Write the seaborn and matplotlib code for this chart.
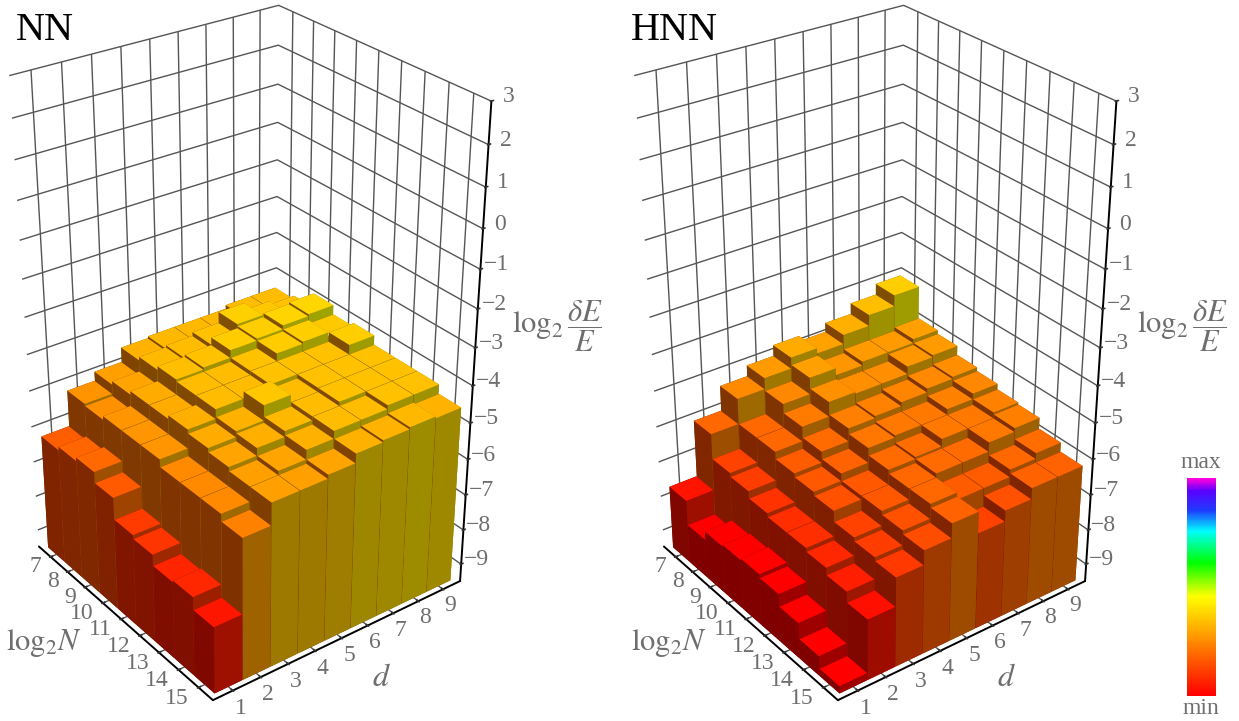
import numpy as np
import seaborn as sns
import matplotlib.pyplot as plt
from matplotlib.colors import LinearSegmentedColormap

# axes values
log2n = [7, 8, 9, 10, 11, 12, 13, 14, 15]
dims = [1, 2, 3, 4, 5, 6, 7, 8, 9]
z_ticks = [-9, -8, -7, -6, -5, -4, -3, -2, -1, 0, 1, 2, 3]
z_floor = -9.5

# log2(dE/E), one list per d, going N=7 ... N=15
nn_values = [
    [-6.25, -6.15, -6.05, -6.35, -6.95, -7.05, -7.35, -7.3, -7.65],
    [-5.25, -5.3, -5.2, -5.2, -5.2, -5.4, -5.4, -5.4, -5.6],
    [-5.0, -4.9, -4.8, -4.8, -4.7, -4.8, -4.9, -5.0, -5.0],
    [-4.6, -4.5, -4.4, -4.45, -4.45, -4.65, -4.7, -4.9, -5.0],
    [-4.55, -4.45, -4.35, -4.45, -4.45, -4.25, -4.55, -4.65, -4.9],
    [-4.55, -4.35, -4.15, -4.35, -4.35, -4.45, -4.45, -4.45, -4.65],
    [-4.55, -4.05, -4.1, -4.15, -4.35, -4.35, -4.35, -4.45, -4.6],
    [-4.45, -4.25, -4.0, -4.1, -4.35, -4.35, -4.35, -4.35, -4.55],
    [-4.45, -4.35, -3.95, -4.2, -4.1, -4.35, -4.35, -4.35, -4.6],
]
hnn_values = [
    [-7.7, -8.4, -8.15, -8.1, -8.05, -8.15, -8.5, -8.95, -9.3],
    [-6.1, -6.8, -6.9, -7.1, -7.2, -7.2, -7.3, -7.5, -7.8],
    [-5.4, -6.1, -6.1, -6.3, -6.4, -6.5, -6.8, -6.9, -7.0],
    [-5.1, -5.45, -5.7, -6.0, -6.2, -6.4, -6.4, -6.5, -6.6],
    [-4.8, -5.0, -5.3, -5.65, -5.8, -6.0, -6.1, -6.1, -6.2],
    [-4.95, -5.2, -5.35, -5.6, -5.75, -5.95, -6.0, -6.3, -6.8],
    [-4.7, -5.1, -5.35, -5.5, -5.75, -5.75, -6.0, -6.3, -6.5],
    [-4.4, -5.1, -5.15, -5.4, -5.6, -5.75, -5.75, -6.1, -6.2],
    [-4.1, -5.0, -5.1, -5.35, -5.45, -5.6, -5.65, -5.95, -6.2],
]

# colour ramp of the legend
ramp_stops = [0.0, 0.457, 0.61, 0.76, 0.855, 0.945, 1.0]
ramp_colors = ['#ff0000', '#ffff00', '#00ff00', '#00ffff', '#1e3cff', '#5a00ff', '#ff00dc']
rainbow = LinearSegmentedColormap.from_list('rainbow_bar', list(zip(ramp_stops, ramp_colors)))

sns.set_theme(style='white', rc={
    'axes.edgecolor': 'black',
    'grid.color': '#555555',
    'grid.linewidth': 1.0,
    'xtick.color': '#333333',
    'ytick.color': '#333333',
    'xtick.labelcolor': '#6e6e6e',
    'ytick.labelcolor': '#6e6e6e',
    'xtick.labelsize': 17,
    'ytick.labelsize': 17,
})
plt.rcParams['font.family'] = ['Liberation Serif', 'DejaVu Serif']
plt.rcParams['mathtext.fontset'] = 'stix'
plt.rcParams['axes.unicode_minus'] = True

W, H = 1239, 721
fig = plt.figure(figsize=(W / 100, H / 100), dpi=100)


def face_colors(z):
    r, g, b, a = rainbow(np.clip((z + 8.1) / 10.8, 0, 1))
    top = (r, g, b)
    right = (0.62 * r, 0.76 * g, b)
    left = (0.5 * r, 0.38 * g, b)
    # order used by bar3d: -z, +z, -y, +y, -x, +x
    return [left, top, left, right, left, right]


def panel(values, x_offset):
    side = 687.4
    rect = [(-106.2 + x_offset) / W, (H - 694.9) / H, side / W, side / H]
    ax = fig.add_axes(rect, projection='3d', computed_zorder=False)
    ax.set_facecolor('none')
    ax.set_proj_type('persp', focal_length=0.533)
    ax.set_box_aspect((1, 0.993, 1.688))
    ax.view_init(elev=29.47, azim=-126.88)
    ax.set_xlim(0.3, 9.7, view_margin=0)
    ax.set_ylim(15.7, 6.3, view_margin=0)
    ax.set_zlim(z_floor, 3, view_margin=0)
    ax.set_xticks(dims)
    ax.set_yticks(log2n)
    ax.set_zticks(z_ticks)
    ax.zaxis.set_ticks_position('upper')
    ax.tick_params(axis='x', pad=2)
    ax.tick_params(axis='y', pad=2)
    ax.tick_params(axis='z', pad=1)
    for lbl in ax.zaxis.get_ticklabels():
        lbl.set_va('baseline')
    for lbl in ax.xaxis.get_ticklabels():
        lbl.set_va('baseline')
    for lbl in ax.yaxis.get_ticklabels():
        lbl.set_va('bottom')
        lbl.set_ha('right')
    for axis in (ax.xaxis, ax.yaxis, ax.zaxis):
        axis.set_pane_color((1, 1, 1, 0))
        axis.pane.set_edgecolor('#555555')
        axis.line.set_linewidth(1.4)
        axis._axinfo['tick']['inward_factor'] = 0.05
        axis._axinfo['tick']['outward_factor'] = 0.1

    # far bars first, the near corner is d=1, N=15
    order = 0
    for j, n in enumerate(log2n):
        for i in reversed(range(len(dims))):
            z = values[i][j]
            ax.bar3d(dims[i] - 0.49, n - 0.49, z_floor, 0.98, 0.98, z - z_floor,
                     color=face_colors(z), shade=False, zorder=order, linewidth=0)
            order += 1
    return ax


ax_nn = panel(nn_values, 0)
ax_hnn = panel(hnn_values, 625)

gray = '#6e6e6e'
fig.text(16 / W, 1 - 30 / H, 'NN', fontsize=29, color='black', ha='left', va='center')
fig.text(631 / W, 1 - 30 / H, 'HNN', fontsize=29, color='black', ha='left', va='center')
for off in (0, 625):
    fig.text((44 + off) / W, 1 - 643 / H, r'$\log_2\!N$', fontsize=22, color=gray, ha='center', va='center')
    fig.text((381 + off) / W, 1 - 679 / H, r'$d$', fontsize=23, color=gray, ha='center', va='center')
    fig.text((561 + off - 4) / W, 1 - 326 / H, r'$\log_2\dfrac{\delta E}{E}$', fontsize=22, color=gray,
             ha='center', va='center')

# legend strip
cax = fig.add_axes([1187 / W, 1 - 696 / H, 29 / W, 218 / H])
ramp = np.linspace(1, 0, 220).reshape(-1, 1)
sns.heatmap(ramp, ax=cax, cmap=rainbow, vmin=0, vmax=1, cbar=False,
            xticklabels=False, yticklabels=False)
fig.text(1201 / W, 1 - 462 / H, 'max', fontsize=17, color=gray, ha='center', va='center')
fig.text(1201 / W, 1 - 708 / H, 'min', fontsize=17, color=gray, ha='center', va='center')

fig.savefig('out.png', dpi=100)
